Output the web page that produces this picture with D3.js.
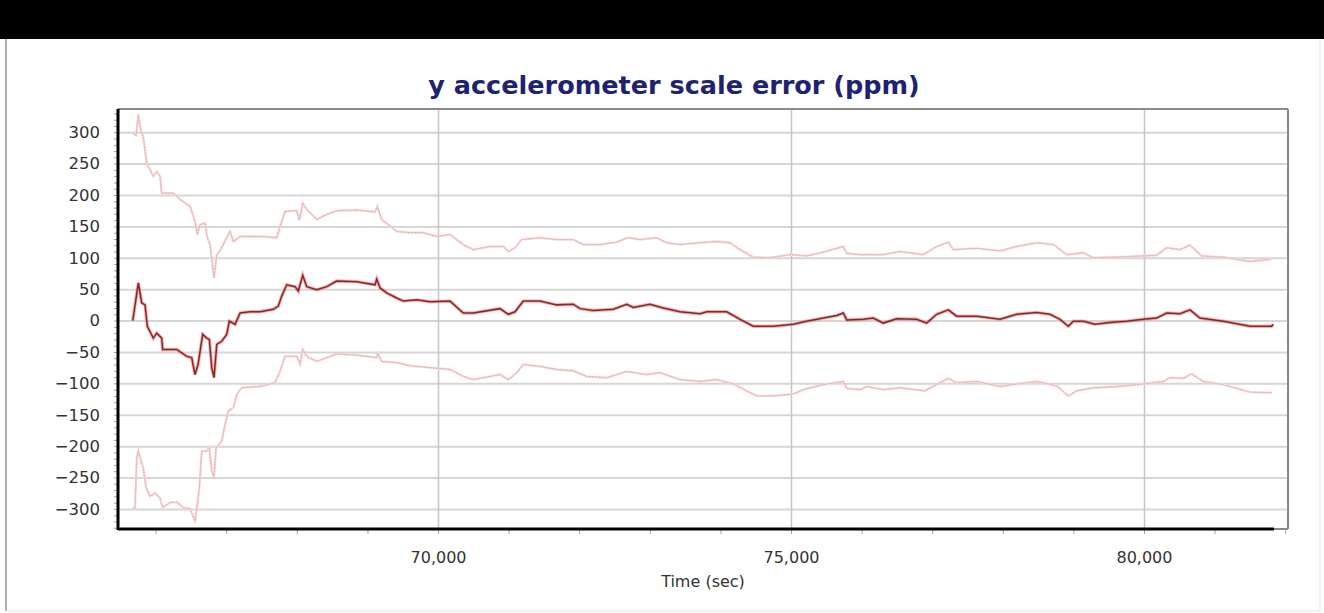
<!DOCTYPE html>
<html>
<head>
<meta charset="utf-8">
<script src="https://cdn.jsdelivr.net/npm/d3@7"></script>
<style>
  body { margin: 0; background: #fff; }
  text { font-family: "DejaVu Sans", Verdana, sans-serif; }
</style>
</head>
<body>
<div id="chart"></div>
<script>
// time axis (sec) and series values (ppm)
const estTime = [65676,65755,65803,65850,65882,65967,66016,66086,66100,66299,66441,66511,66558,66601,66667,66723,66761,66795,66827,66866,66936,67007,67044,67125,67196,67337,67479,67667,67738,67786,67857,67975,68021,68084,68140,68282,68424,68565,68848,69108,69132,69179,69273,69415,69509,69698,69887,70170,70358,70500,70878,70996,71091,71208,71445,71681,71916,72011,72200,72483,72673,72766,73003,73191,73428,73711,73806,74089,74278,74466,74749,75032,75222,75457,75647,75741,75789,76024,76166,76307,76497,76780,76922,77064,77228,77347,77630,77960,78197,78480,78668,78810,78928,78999,79140,79306,79518,79755,79990,80180,80321,80510,80652,80793,81123,81501,81808,81831];
const estValue = [0,60,28,25,-9,-28,-20,-28,-46,-46,-57,-59,-86,-70,-22,-28,-30,-75,-91,-38,-33,-22,-1,-6,12,14,14,18,23,39,57,54,47,72,54,49,54,63,62,57,66,52,44,36,31,33,30,31,12,12,19,10,14,31,31,25,26,19,16,18,26,21,26,20,14,11,14,14,2,-9,-9,-6,-1,4,8,12,1,2,4,-4,3,2,-4,10,17,7,7,2,10,13,10,2,-9,-1,-1,-6,-3,-1,2,4,12,11,17,4,-1,-9,-9,-6];

const upperTime = [65676,65722,65755,65789,65826,65874,65921,65967,66016,66062,66086,66251,66346,66487,66558,66591,66629,66700,66732,66771,66827,66866,66912,67007,67054,67101,67196,67479,67715,67762,67833,67999,68035,68084,68140,68282,68424,68565,68848,69108,69140,69203,69273,69415,69603,69792,69982,70170,70358,70500,70737,70925,70996,71091,71186,71445,71681,71916,72058,72295,72531,72695,72861,73098,73239,73428,73711,73947,74136,74278,74466,74702,74986,75222,75457,75741,75789,75977,76072,76307,76544,76874,77064,77228,77299,77630,77960,78197,78480,78715,78905,79140,79282,79613,79990,80180,80321,80510,80652,80818,81123,81501,81808];
const upperValue = [299,295,328,304,291,251,240,230,237,230,203,203,193,182,158,137,153,155,132,121,68,105,111,132,142,126,134,134,132,150,174,175,160,187,177,161,169,175,176,173,182,161,155,142,140,140,134,137,121,113,118,118,110,116,129,132,129,129,121,121,125,132,129,132,124,121,124,126,124,113,101,100,105,103,109,118,107,105,105,105,110,105,118,125,113,115,111,118,124,121,105,108,100,101,103,104,116,113,120,103,101,94,98];

const lowerTime = [65676,65708,65732,65755,65803,65826,65864,65921,65992,66062,66100,66204,66299,66393,66487,66558,66591,66619,66653,66723,66761,66795,66827,66856,66936,66983,67030,67101,67149,67220,67479,67691,67762,67833,67999,68045,68084,68140,68282,68424,68565,68848,69132,69146,69203,69415,69603,69887,70170,70358,70500,70878,70996,71115,71208,71445,71681,71916,72106,72389,72673,72956,73144,73428,73711,73947,74183,74372,74514,74749,75032,75174,75457,75741,75789,75977,76072,76307,76544,76898,77064,77228,77347,77630,77960,78197,78480,78763,78928,79046,79282,79613,79990,80273,80368,80557,80675,80840,81123,81501,81808];
const lowerValue = [-299,-299,-219,-208,-227,-235,-266,-280,-275,-283,-298,-290,-289,-298,-300,-319,-292,-266,-208,-208,-203,-240,-250,-203,-192,-166,-144,-139,-118,-107,-105,-99,-81,-57,-57,-70,-46,-57,-65,-59,-53,-55,-59,-52,-65,-67,-72,-75,-78,-89,-94,-86,-94,-83,-70,-73,-78,-80,-89,-91,-81,-86,-83,-94,-97,-94,-101,-112,-120,-120,-117,-110,-102,-97,-108,-110,-105,-110,-107,-112,-102,-92,-99,-97,-105,-101,-97,-104,-120,-112,-107,-105,-101,-97,-91,-92,-85,-97,-102,-114,-115];

const yTicks = [-300,-250,-200,-150,-100,-50,0,50,100,150,200,250,300];
const xTicks = [70000, 75000, 80000];

const W = 1324, H = 613;
const plot = { left: 118, right: 1288, top: 109, bottom: 529 };

const svg = d3.select("#chart").append("svg")
  .attr("width", W).attr("height", H);

// top black band and panel edges
svg.append("rect").attr("x", 0).attr("y", 0).attr("width", W).attr("height", 39).attr("fill", "#000");
svg.append("line").attr("x1", 6).attr("x2", 6).attr("y1", 39).attr("y2", 611)
  .attr("stroke", "#9a9a9a").attr("stroke-width", 1.5);
svg.append("line").attr("x1", 6).attr("x2", 1320).attr("y1", 611).attr("y2", 611)
  .attr("stroke", "#e4e4e4").attr("stroke-width", 1);
svg.append("line").attr("x1", 1320).attr("x2", 1320).attr("y1", 39).attr("y2", 611)
  .attr("stroke", "#e4e4e4").attr("stroke-width", 1);

const x = d3.scaleLinear().domain([65467, 82040]).range([plot.left, plot.right]);
const y = d3.scaleLinear().domain([-332, 337]).range([plot.bottom, plot.top]);

// horizontal grid
svg.append("g")
  .attr("transform", `translate(${plot.left},0)`)
  .call(d3.axisLeft(y).tickValues(yTicks).tickSize(-(plot.right - plot.left)).tickFormat(""))
  .call(g => g.select(".domain").remove())
  .call(g => g.selectAll(".tick line").attr("stroke", "#d6d6d6").attr("stroke-width", 2));

// vertical grid
svg.append("g")
  .attr("transform", `translate(0,${plot.bottom})`)
  .call(d3.axisBottom(x).tickValues(xTicks).tickSize(-(plot.bottom - plot.top)).tickFormat(""))
  .call(g => g.select(".domain").remove())
  .call(g => g.selectAll(".tick line").attr("stroke", "#c6c6c6").attr("stroke-width", 1.5));

// plot border (top, right)
svg.append("line").attr("x1", plot.left).attr("x2", plot.right).attr("y1", plot.top).attr("y2", plot.top)
  .attr("stroke", "#8a8a8a").attr("stroke-width", 2);
svg.append("line").attr("x1", plot.right).attr("x2", plot.right).attr("y1", plot.top).attr("y2", plot.bottom)
  .attr("stroke", "#8a8a8a").attr("stroke-width", 2);
svg.append("line").attr("x1", plot.left).attr("x2", plot.right).attr("y1", plot.bottom).attr("y2", plot.bottom)
  .attr("stroke", "#8a8a8a").attr("stroke-width", 2);

// series
const toPts = (ts, vs) => ts.map((t, i) => [t, vs[i]]);
const line = d3.line().x(d => x(d[0])).y(d => y(d[1]));

[toPts(upperTime, upperValue), toPts(lowerTime, lowerValue)].forEach(pts => {
  svg.append("path").datum(pts).attr("d", line)
    .attr("fill", "none").attr("stroke", "#f7d9d9").attr("stroke-width", 2.4);
  svg.append("path").datum(pts).attr("d", line)
    .attr("fill", "none").attr("stroke", "#dba3a3").attr("stroke-width", 0.8)
    .attr("stroke-dasharray", "2,1");
});

const est = toPts(estTime, estValue);
svg.append("path").datum(est).attr("d", line)
  .attr("fill", "none").attr("stroke", "#ec6a6a").attr("stroke-width", 3.4).attr("stroke-opacity", 0.55);
svg.append("path").datum(est).attr("d", line)
  .attr("fill", "none").attr("stroke", "#862828").attr("stroke-width", 1.5);

// minor ticks
svg.append("g")
  .attr("transform", `translate(${plot.left},0)`)
  .call(d3.axisLeft(y).tickValues(d3.range(-330, 331, 10)).tickSize(4).tickFormat(""))
  .call(g => g.select(".domain").remove())
  .call(g => g.selectAll(".tick line").attr("stroke", "#a0a0a0"));
svg.append("g")
  .attr("transform", `translate(0,${plot.bottom})`)
  .call(d3.axisBottom(x).tickValues(d3.range(66000, 82001, 1000)).tickSize(5).tickFormat(""))
  .call(g => g.select(".domain").remove())
  .call(g => g.selectAll(".tick line").attr("stroke", "#a0a0a0"));

// y labels
svg.append("g")
  .attr("transform", `translate(${plot.left},0)`)
  .call(d3.axisLeft(y).tickValues(yTicks).tickSize(0).tickPadding(18))
  .call(g => g.select(".domain").remove())
  .call(g => g.selectAll("text").attr("fill", "#333").style("font-size", "16.5px"));

// x labels
svg.append("g")
  .attr("transform", `translate(0,${plot.bottom})`)
  .call(d3.axisBottom(x).tickValues(xTicks).tickSize(0).tickFormat(d3.format(",")))
  .call(g => g.select(".domain").remove())
  .call(g => g.selectAll("text").attr("y", 28).attr("dy", "0.35em").attr("fill", "#333").style("font-size", "16px"));

// thick axis lines
svg.append("line").attr("x1", plot.left).attr("x2", plot.left).attr("y1", plot.top).attr("y2", plot.bottom + 1)
  .attr("stroke", "#000").attr("stroke-width", 3);
svg.append("line").attr("x1", plot.left).attr("x2", x(81840)).attr("y1", plot.bottom).attr("y2", plot.bottom)
  .attr("stroke", "#000").attr("stroke-width", 3);

svg.append("text")
  .attr("x", (plot.left + plot.right) / 2).attr("y", 581).attr("dy", "0.35em")
  .attr("text-anchor", "middle").attr("fill", "#333").style("font-size", "16px")
  .text("Time (sec)");

svg.append("text")
  .attr("x", 674).attr("y", 94)
  .attr("text-anchor", "middle").attr("fill", "#1d2372")
  .style("font-size", "25.5px").style("font-weight", "bold")
  .text("y accelerometer scale error (ppm)");
</script>
</body>
</html>
